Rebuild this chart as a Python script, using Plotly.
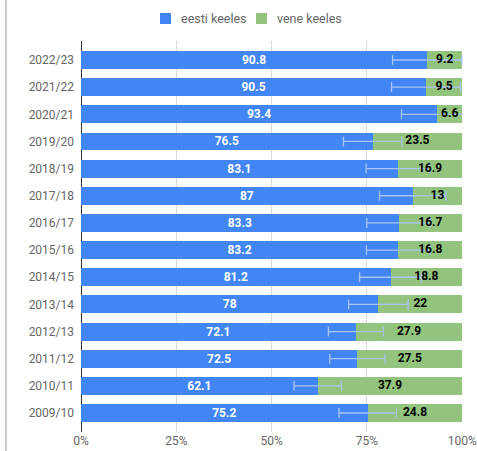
import plotly.graph_objects as go

years = ["2022/23", "2021/22", "2020/21", "2019/20", "2018/19", "2017/18", "2016/17",
         "2015/16", "2014/15", "2013/14", "2012/13", "2011/12", "2010/11", "2009/10"]
eesti = [90.8, 90.5, 93.4, 76.5, 83.1, 87, 83.3, 83.2, 81.2, 78, 72.1, 72.5, 62.1, 75.2]
vene = [9.2, 9.5, 6.6, 23.5, 16.9, 13, 16.7, 16.8, 18.8, 22, 27.9, 27.5, 37.9, 24.8]
series_names = ["eesti keeles", "vene keeles"]
x_ticks = [0, 25, 50, 75, 100]
x_tick_labels = ["0%", "25%", "50%", "75%", "100%"]

BLUE = "#4285F4"
GREEN = "#93C47D"
FONT = "Roboto"
GREY_TXT = "#666666"

# pixel -> paper helpers (plot area: x 81..463, y 41..432)
def px(x):
    return (x - 81) / 382


def py(y):
    return (432 - y) / 391


fig = go.Figure()
fig.add_trace(go.Bar(
    y=years, x=eesti, orientation="h", name=series_names[0],
    marker=dict(color=BLUE, line=dict(width=0)),
    text=[f"{v:g}" for v in eesti], textposition="inside", insidetextanchor="middle",
    constraintext="none", textangle=0,
    textfont=dict(family=FONT, size=12, color="white", weight="bold"),
    hoverinfo="skip", showlegend=False,
))
fig.add_trace(go.Bar(
    y=years, x=vene, orientation="h", name=series_names[1],
    marker=dict(color=GREEN, line=dict(width=0)),
    hoverinfo="skip", showlegend=False,
))
# error bars (10% of value) on the blue series, drawn above both bars
fig.add_trace(go.Scatter(
    y=years, x=eesti, mode="markers", marker=dict(opacity=0, size=1),
    error_x=dict(type="percent", value=10, color="#A9C4F5", thickness=1.3, width=5),
    showlegend=False, hoverinfo="skip",
))
# green labels on top
fig.add_trace(go.Scatter(
    y=years, x=[e + v / 2 for e, v in zip(eesti, vene)], mode="text",
    text=[f"{v:g}" for v in vene], textposition="middle center",
    textfont=dict(family=FONT, size=12, color="black", weight="bold"),
    showlegend=False, hoverinfo="skip",
))

# manual legend (swatch + label)
shapes = [dict(type="line", xref="paper", yref="paper",
               x0=px(6), x1=px(6), y0=py(451), y1=py(0),
               line=dict(color="#cccccc", width=2))]
annotations = []
for name, color, sx, tx in [(series_names[0], BLUE, 160, 179), (series_names[1], GREEN, 256, 275)]:
    shapes.append(dict(type="rect", xref="paper", yref="paper",
                       x0=px(sx), x1=px(sx + 11), y0=py(24), y1=py(13),
                       fillcolor=color, line=dict(width=0)))
    annotations.append(dict(xref="paper", yref="paper", x=px(tx), y=py(18.5),
                            xanchor="left", yanchor="middle", showarrow=False,
                            text=name, font=dict(family=FONT, size=12.5, color=GREY_TXT)))

fig.update_layout(
    width=477, height=451,
    barmode="stack", bargap=0.34,
    plot_bgcolor="white", paper_bgcolor="white",
    margin=dict(l=81, r=14, t=41, b=19, autoexpand=False),
    font=dict(family=FONT, size=12, color=GREY_TXT),
    showlegend=False,
    xaxis=dict(range=[0, 100.2], tickvals=x_ticks, ticktext=x_tick_labels,
               showgrid=True, gridcolor="#d9d9d9", gridwidth=1,
               zeroline=True, zerolinecolor="#333333", zerolinewidth=1,
               showline=False, ticks="", automargin=False,
               tickfont=dict(family=FONT, size=12, color=GREY_TXT)),
    yaxis=dict(categoryorder="array", categoryarray=years, range=[13.7, -0.7],
               showgrid=False, zeroline=False, ticks="", automargin=False,
               ticksuffix="  ",
               tickfont=dict(family=FONT, size=12, color=GREY_TXT)),
    shapes=shapes,
    annotations=annotations,
)

fig.write_html("out.html", config={"displayModeBar": False})

# remove default page margin so the figure sits at the window's top-left corner
with open("out.html", "r", encoding="utf-8") as f:
    html = f.read()
html = html.replace("<head>", "<head><style>html,body{margin:0;padding:0;overflow:hidden;}</style>", 1)
with open("out.html", "w", encoding="utf-8") as f:
    f.write(html)
